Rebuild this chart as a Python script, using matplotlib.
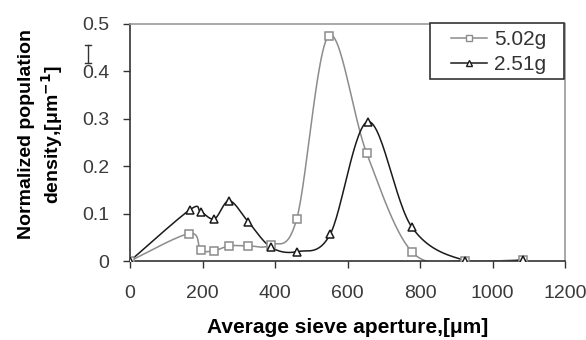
import numpy as np
import matplotlib
matplotlib.use("Agg")
import matplotlib.pyplot as plt
from matplotlib.lines import Line2D
from matplotlib.patches import Rectangle

plt.rcParams['font.family'] = ['Liberation Sans', 'DejaVu Sans']

x_502 = [0, 164, 195, 233, 274, 326, 388, 460, 548, 653, 777, 925, 1085]
y_502 = [0, 0.058, 0.023, 0.022, 0.032, 0.032, 0.034, 0.089, 0.475, 0.227, 0.020, 0.0, 0.003]
x_251 = [0, 165, 195, 233, 274, 326, 389, 462, 552, 657, 777, 925, 1085]
y_251 = [0, 0.108, 0.104, 0.089, 0.127, 0.083, 0.029, 0.020, 0.056, 0.294, 0.072, 0.001, 0.002]
labels = ["5.02g", "2.51g"]
xticks = [0, 200, 400, 600, 800, 1000, 1200]
yticks = [0, 0.1, 0.2, 0.3, 0.4, 0.5]


def smooth(xs, ys, n=30):
    # Excel-like smoothing: parametric Catmull-Rom Bezier between data points
    P = np.column_stack([xs, ys]).astype(float)
    scale = np.array([1.0 / 1200, 1.0 / 0.5])
    Q = P * scale
    out = []
    for i in range(len(Q) - 1):
        p0 = Q[i - 1] if i > 0 else Q[i]
        p1, p2 = Q[i], Q[i + 1]
        p3 = Q[i + 2] if i + 2 < len(Q) else Q[i + 1]
        c1 = p1 + (p2 - p0) / 6
        c2 = p2 - (p3 - p1) / 6
        t = np.linspace(0, 1, n)[:, None]
        seg = ((1 - t) ** 3) * p1 + 3 * ((1 - t) ** 2) * t * c1 + 3 * (1 - t) * t ** 2 * c2 + t ** 3 * p2
        out.append(seg)
    S = np.vstack(out) / scale
    return S[:, 0], S[:, 1]


W, H = 586, 340
fig = plt.figure(figsize=(W / 100, H / 100), dpi=100)
ax = fig.add_axes([130 / W, 1 - 261 / H, 435 / W, 237 / H])

c1, c2 = '#8c8c8c', '#1a1a1a'
sx1, sy1 = smooth(x_502, y_502)
sx2, sy2 = smooth(x_251, y_251)
ax.plot(sx1, sy1, color=c1, lw=1.1, zorder=2)
ax.plot(sx2, sy2, color=c2, lw=1.1, zorder=2)
ax.plot(x_502, y_502, ls='none', marker='s', ms=5.5, mfc='white', mec=c1, mew=1.1, zorder=3)
ax.plot(x_251, y_251, ls='none', marker='^', ms=6, mfc='white', mec=c2, mew=1.1, zorder=4)

ax.set_xlim(0, 1200)
ax.set_ylim(0, 0.5)
ax.set_xticks(xticks)
ax.set_xticklabels([str(v) for v in xticks])
ax.set_yticks(yticks)
ax.set_yticklabels(['0', '0.1', '0.2', '0.3', '0.4', '0.5'])
ax.tick_params(direction='out', length=5, width=1, labelsize=14, labelcolor='#3a3a3a', color='#333333')
ax.tick_params(axis='y', pad=10)
ax.tick_params(axis='x', pad=12.5)
ax.spines['left'].set_color('#333333')
ax.spines['bottom'].set_color('#333333')
ax.spines['top'].set_color('#999999')
ax.spines['right'].set_color('#999999')
for s in ax.spines.values():
    s.set_linewidth(1.2)

ax.set_xlabel('Average sieve aperture,[μm]', fontsize=15, fontweight='bold', labelpad=11)
ax.set_ylabel('Normalized population\ndensity,[μm$^\\mathbf{-1}$]', fontsize=14, fontweight='bold',
              labelpad=12, linespacing=1.2)
ax.yaxis.label.set_y(0.534)

# legend: entries without frame, frame drawn as a rectangle matching the reference box
handles = [Line2D([], [], color=c1, lw=1.1, marker='s', ms=4.5, mfc='white', mec=c1),
           Line2D([], [], color=c2, lw=1.1, marker='^', ms=5, mfc='white', mec=c2)]
leg = fig.legend(handles, labels, loc='upper left', bbox_to_anchor=(451 / W, 1 - 30 / H),
                 fontsize=15, frameon=False, borderaxespad=0, borderpad=0,
                 handlelength=1.75, handletextpad=0.3, labelspacing=0.28, labelcolor='#333333')
fig.add_artist(Rectangle((430 / W, 1 - 79 / H), 134 / W, 56 / H, transform=fig.transFigure,
                         facecolor='white', edgecolor='#333333', lw=1.2, zorder=4))
leg.set_zorder(5)

# small error-bar glyph left of the axis (present in the reference)
ex = 88 / W
y0, y1 = 1 - 63 / H, 1 - 45 / H
cw = 3 / W
for seg in [([ex, ex], [y0, y1]), ([ex - cw, ex + cw], [y1, y1]), ([ex - cw, ex + cw], [y0, y0])]:
    fig.add_artist(Line2D(seg[0], seg[1], color='#333333', lw=1.0, transform=fig.transFigure))

fig.savefig('out.png', dpi=100)
